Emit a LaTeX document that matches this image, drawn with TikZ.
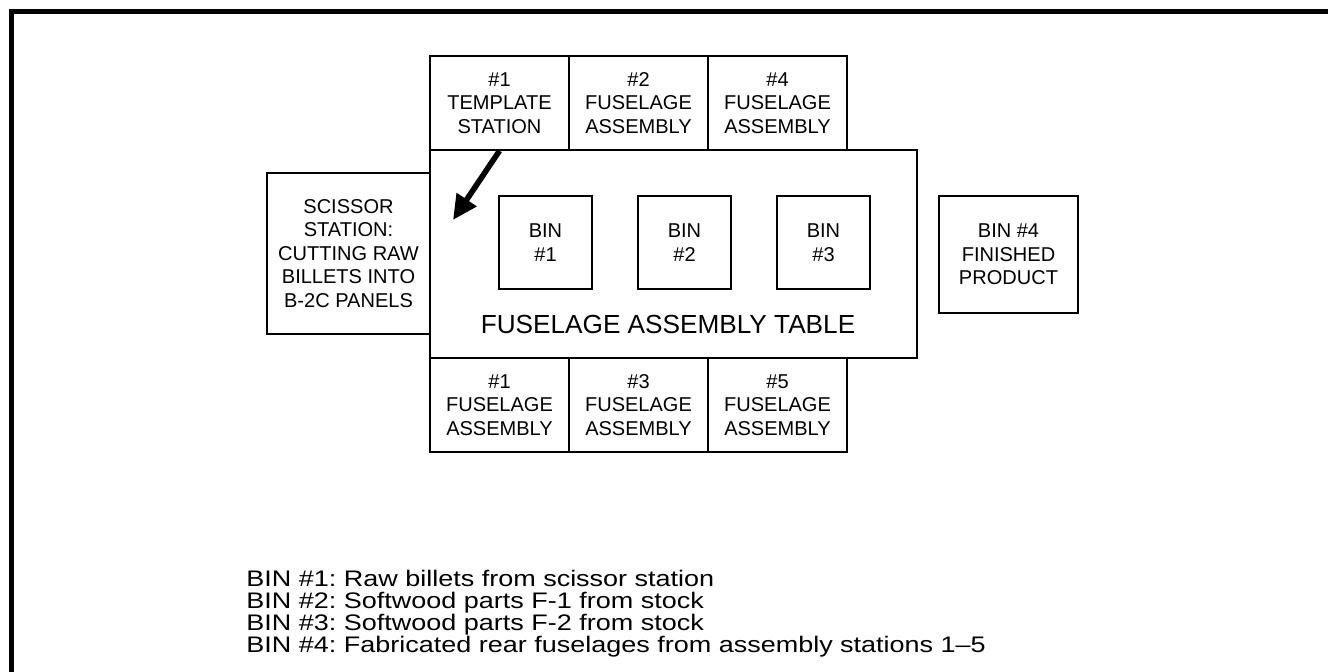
\documentclass[tikz,border=0pt]{standalone}
\usepackage{fontspec}
\setmainfont{Liberation Sans}
\newfontfamily\legendfont{Liberation Sans}[FakeStretch=1.2,Ligatures=TeX]
\usetikzlibrary{arrows.meta}

\begin{document}
\frenchspacing
\begin{tikzpicture}[x=0.02cm,y=0.02cm,font=\fontsize{11.4}{13.4}\selectfont,
  every node/.style={inner sep=0pt,align=center},
  station/.style={draw,line width=0.9pt,minimum width=2.78cm,minimum height=1.88cm},
  bin/.style={draw,line width=0.9pt,minimum size=1.86cm}]
\useasboundingbox (0,0) rectangle (1328,672);
% frame
\draw[line width=2.9pt] (11.5,-10) -- (11.5,660.5) -- (1340,660.5);
% table with the stations round it
\node[draw,line width=0.9pt,minimum width=9.74cm,minimum height=4.16cm] (tbl) at (673.5,418) {};
\node[station] (tmpl) at (499.5,569) {\#1\\TEMPLATE\\STATION};
\node[station] (top2) at (638.5,569) {\#2\\FUSELAGE\\ASSEMBLY};
\node[station] (top4) at (777.5,569) {\#4\\FUSELAGE\\ASSEMBLY};
\node[station] (bot1) at (499.5,267) {\#1\\FUSELAGE\\ASSEMBLY};
\node[station] (bot3) at (638.5,267) {\#3\\FUSELAGE\\ASSEMBLY};
\node[station] (bot5) at (777.5,267) {\#5\\FUSELAGE\\ASSEMBLY};
\node[draw,line width=0.9pt,minimum width=3.26cm,minimum height=3.22cm] (scis) at (348.5,418.5) {SCISSOR\\STATION:\\CUTTING RAW\\BILLETS INTO\\B-2C PANELS};
\node[draw,line width=0.9pt,minimum width=2.78cm,minimum height=2.34cm] (bin4) at (1008.5,417.5) {BIN \#4\\FINISHED\\PRODUCT};
% bins on the table
\node[bin] (bin1) at (545.5,429.5) {BIN\\\#1};
\node[bin] (bin2) at (684.5,429.5) {BIN\\\#2};
\node[bin] (bin3) at (823.5,429.5) {BIN\\\#3};
\node[font=\fontsize{14.9}{16}\selectfont] (tbllbl) at (668,348) {FUSELAGE ASSEMBLY TABLE};
\coordinate (cut) at (453,452);
\draw[line width=3.2pt,-{Triangle[length=14pt,width=13pt]}] (tmpl.south) -- (cut);
% legend
\node[anchor=north west,align=left,font=\legendfont\fontsize{12.8}{12.5}\selectfont] (legend) at (246,102) {BIN \#1: Raw billets from scissor station\\
BIN \#2: Softwood parts F-1 from stock\\
BIN \#3: Softwood parts F-2 from stock\\
BIN \#4: Fabricated rear fuselages from assembly stations 1--5};
\end{tikzpicture}
\end{document}
